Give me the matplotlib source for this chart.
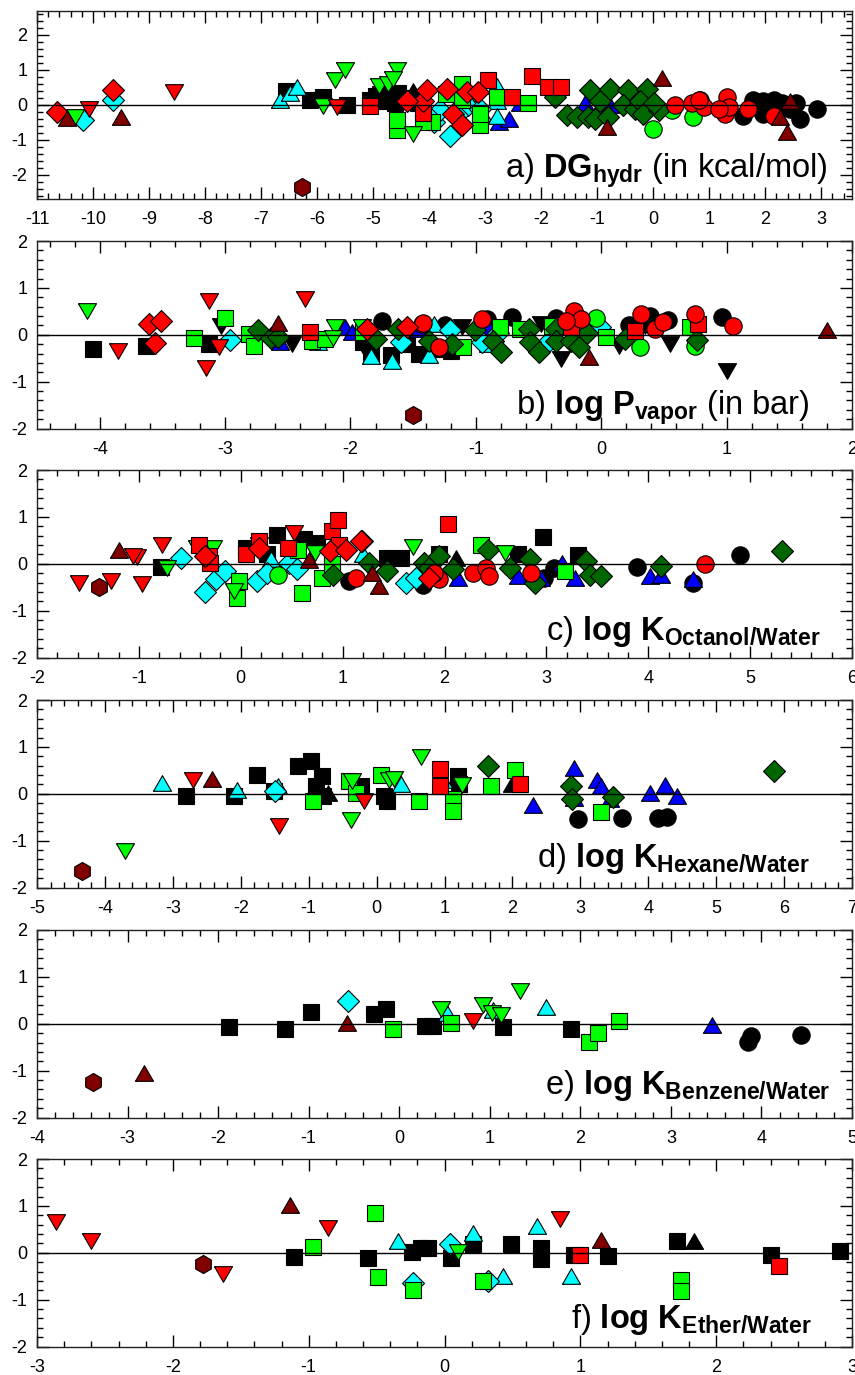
import matplotlib
matplotlib.use("Agg")
import matplotlib.pyplot as plt
from matplotlib.ticker import MultipleLocator

plt.rcParams['font.family'] = ['Liberation Sans', 'DejaVu Sans']
plt.rcParams['mathtext.fontset'] = 'custom'
plt.rcParams['mathtext.rm'] = 'Liberation Sans'
plt.rcParams['mathtext.bf'] = 'Liberation Sans:bold'
plt.rcParams['mathtext.it'] = 'Liberation Sans:italic'
plt.rcParams['mathtext.sf'] = 'Liberation Sans'
plt.rcParams['axes.unicode_minus'] = False

# ---------------- data ----------------
# series codes: k=black, r=red, m=dark red, g=lime, G=dark green, c=cyan, b=blue
# marker letter: s square, o circle, v down-triangle, ^ up-triangle, D diamond, h hexagon

A_KIND = (['ks'] * 14 + ['k^'] * 2 + ['kv'] * 2 + ['ko'] * 11 + ['b^'] * 7 + ['c^'] * 8 +
          ['cD'] * 9 + ['gs'] * 11 + ['go'] * 3 + ['gv'] * 10 + ['GD'] * 17 + ['rs'] * 7 +
          ['ro'] * 10 + ['rD'] * 10 + ['rv'] * 3 + ['m^'] * 7 + ['mh'] * 1)
A_X = [-6.55, -6.12, -5.89, -5.47, -5.05, -4.95, -4.85, -4.75, -4.65, -4.55, -4.45, -4.35, -4.6, -4.2,
       -4.28, -4.7,
       -4.5, -4.85,
       0.84, 1.61, 1.79, 1.96, 2.15, 1.96, 2.63, 2.92, 2.45, 2.3, 2.55,
       -2.76, -2.58, -2.38, -1.21, -0.77, -0.9, -3.5,
       -6.67, -6.48, -6.35, -2.79, -2.78, -3.05, -2.79, -3.3,
       -10.17, -9.65, -3.92, -3.63, -3.8, -3.3, -3.09, -3.5, -4.0,
       -4.57, -4.57, -3.95, -4.1, -3.42, -3.42, -3.09, -3.09, -2.79, -2.23, -3.7,
       0.0, 0.33, 0.72,
       -10.32, -5.9, -5.68, -5.5, -4.9, -4.73, -4.58, -4.65, -4.28, -3.2,
       -1.75, -1.54, -1.36, -1.16, -1.04, -1.13, -0.95, -0.8, -0.77, -0.45, -0.54, -0.32, -0.11, -0.23, -0.18, 0.11, 0.02,
       -5.05, -4.1, -2.94, -2.52, -2.17, -1.87, -1.64,
       0.39, 0.69, 0.9, 1.32, 1.29, 1.36, 1.7, 2.15, 0.81, 1.18,
       -10.65, -9.64, -4.1, -4.04, -4.4, -3.68, -3.33, -3.12, -3.57, -3.42,
       -10.08, -8.55, -5.65,
       -10.47, -9.5, -0.83, 0.15, 2.45, 2.27, 2.39,
       -6.27]
A_Y = [0.39, 0.14, 0.22, 0.0, 0.15, 0.25, 0.1, 0.3, 0.2, 0.35, 0.1, 0.2, 0.05, 0.05,
       0.4, 0.3,
       0.15, 0.3,
       0.14, -0.31, 0.14, 0.12, 0.14, -0.26, -0.4, -0.11, -0.11, 0.05, 0.05,
       -0.5, -0.4, 0.05, 0.05, -0.02, 0.12, -0.1,
       0.15, 0.35, 0.52, 0.55, 0.12, -0.25, -0.31, 0.3,
       -0.45, 0.14, -0.5, -0.88, -0.15, -0.02, -0.13, -0.3, -0.35,
       -0.73, -0.45, -0.5, -0.5, 0.6, 0.14, -0.59, -0.26, 0.22, 0.05, 0.3,
       -0.69, -0.16, -0.35,
       -0.35, -0.05, 0.71, 1.0, 0.55, 0.6, 0.98, 0.75, -0.83, 0.3,
       0.22, -0.28, -0.35, -0.35, -0.42, 0.41, 0.12, -0.35, 0.46, 0.41, -0.02, -0.11, 0.46, 0.12, -0.26, -0.16, 0.05,
       -0.05, -0.25, 0.7, 0.22, 0.81, 0.52, 0.52,
       -0.02, 0.05, -0.07, 0.22, -0.26, -0.07, -0.11, -0.31, 0.14, -0.11,
       -0.22, 0.43, 0.12, 0.41, 0.12, 0.46, 0.36, 0.36, -0.26, -0.59,
       -0.11, 0.36, -0.07,
       -0.37, -0.35, -0.64, 0.77, 0.12, -0.35, -0.78,
       -2.35]

B_KIND = (['ks'] * 10 + ['ko'] * 9 + ['kv'] * 11 + ['b^'] * 5 + ['c^'] * 6 + ['cD'] * 7 +
          ['gs'] * 13 + ['go'] * 3 + ['gv'] * 4 + ['GD'] * 20 + ['rs'] * 4 + ['ro'] * 12 +
          ['rD'] * 5 + ['rv'] * 5 + ['m^'] * 3 + ['mh'] * 1)
B_X = [-4.05, -3.63, -3.13, -1.84, -1.68, -1.45, -1.3, -1.9, -1.55, -1.2,
       -1.75, -0.91, -0.71, -0.36, 0.39, 0.53, 0.96, 0.22, -1.25,
       -3.03, -2.47, -1.9, -1.11, -0.48, -0.32, 0.14, 0.55, 1.0, 0.35, -1.6,
       -2.56, -2.04, -1.99, -1.45, -0.9,
       -1.84, -1.67, -2.26, -1.33, -1.37, -0.9,
       -2.96, -1.21, -0.95, -0.01, -0.82, -0.42, -1.6,
       -3.25, -3.0, -2.81, -2.77, -2.31, -2.2, -1.1, -0.81, -0.65, -0.39, 0.04, 0.71, -1.9,
       -0.04, 0.31, 0.75,
       -4.1, -2.12, -2.14, -1.91,
       -2.74, -2.63, -2.58, -1.8, -1.62, -1.37, -1.19, -1.01, -0.86, -0.8, -0.58, -0.57, -0.5, -0.36, -0.36, -0.24, -0.18, -0.11, 0.19, 0.76,
       -2.32, -0.24, 0.77, 0.27,
       -1.43, -1.42, -0.95, -0.22, -0.16, -0.28, -1.29, 0.32, 0.43, 0.49, 0.75, 1.05,
       -3.61, -3.51, -3.56, -1.87, -1.55,
       -3.85, -3.13, -3.15, -3.05, -2.36,
       -2.58, -0.1, 1.8,
       -1.5]
B_Y = [-0.31, -0.24, -0.2, -0.4, -0.43, -0.41, -0.3, -0.15, -0.2, -0.35,
       0.3, 0.34, 0.37, 0.36, 0.41, 0.31, 0.38, 0.2, 0.2,
       0.19, -0.2, -0.24, 0.16, 0.22, -0.52, -0.24, -0.2, -0.77, 0.19, -0.1,
       -0.15, 0.16, 0.05, 0.13, 0.16,
       -0.45, -0.56, -0.16, 0.22, -0.44, -0.2,
       -0.11, 0.1, -0.15, 0.16, 0.03, -0.13, -0.15,
       -0.06, 0.36, 0.01, -0.24, -0.13, -0.1, -0.27, 0.16, 0.12, 0.19, -0.04, 0.16, 0.05,
       0.36, -0.27, -0.25,
       0.51, 0.16, -0.07, 0.16,
       0.1, -0.06, -0.05, -0.09, 0.12, -0.13, -0.19, 0.1, -0.13, -0.37, 0.13, -0.15, -0.37, 0.13, -0.13, -0.13, -0.27, 0.03, -0.1, -0.12,
       0.05, 0.16, 0.23, 0.07,
       0.23, 0.26, 0.34, 0.51, 0.34, 0.3, -0.27, 0.44, 0.12, 0.27, 0.44, 0.19,
       0.23, 0.3, -0.18, 0.12, 0.16,
       -0.34, 0.71, -0.7, -0.26, 0.76,
       0.26, -0.48, 0.1,
       -1.72]

C_KIND = (['ks'] * 12 + ['ko'] * 7 + ['k^'] * 1 + ['b^'] * 8 + ['cD'] * 11 + ['c^'] * 2 +
          ['gs'] * 8 + ['go'] * 1 + ['gv'] * 8 + ['GD'] * 16 + ['rs'] * 10 + ['ro'] * 8 +
          ['rD'] * 6 + ['rv'] * 7 + ['m^'] * 4 + ['mh'] * 1)
C_X = [-0.78, 0.36, 0.62, 0.75, 0.05, 0.26, 1.44, 1.57, 2.97, 2.72, 3.31, 1.95,
       1.06, 1.79, 2.98, 3.07, 3.89, 4.44, 4.9,
       2.11,
       2.13, 2.72, 2.95, 3.15, 3.28, 4.02, 4.13, 4.44,
       -0.59, -0.35, -0.24, -0.15, 0.16, 0.26, 0.47, 0.55, 1.62, 1.72, 1.19,
       0.3, 1.2,
       -0.02, -0.04, 0.56, 0.6, 0.8, 2.36, 3.18, 0.9,
       0.37,
       -0.72, -0.43, -0.27, -0.07, 0.18, 1.69, 0.73, 2.59,
       0.91, 1.26, 1.44, 1.8, 1.85, 1.95, 2.08, 2.43, 2.64, 2.84, 2.89, 3.39, 3.43, 3.54, 4.13, 5.31,
       -0.41, -0.31, -0.3, 0.05, 0.18, 0.46, 0.9, 0.95, 0.96, 2.03,
       1.13, 1.95, 2.28, 2.41, 2.44, 2.85, 4.56, 1.9,
       -0.35, 0.18, 0.88, 1.03, 1.18, 1.85,
       -1.59, -1.27, -1.02, -0.97, -0.77, -1.06, 0.52,
       -1.2, 0.67, 1.36, 1.29,
       -1.39]
C_Y = [-0.06, 0.62, 0.52, 0.45, 0.34, 0.2, 0.13, 0.13, 0.57, 0.2, 0.18, 0.2,
       -0.37, -0.46, -0.3, -0.09, -0.06, -0.42, 0.18,
       0.13,
       -0.3, -0.26, -0.3, 0.02, -0.3, -0.26, -0.23, -0.33,
       0.13, -0.6, -0.33, -0.16, -0.37, -0.19, 0.02, -0.12, -0.4, -0.3, 0.48,
       0.1, 0.2,
       -0.37, -0.72, 0.3, -0.62, -0.3, 0.41, -0.16, 0.0,
       -0.23,
       -0.09, 0.34, 0.34, -0.58, 0.41, 0.36, 0.23, 0.23,
       -0.23, 0.02, -0.16, 0.02, -0.09, 0.16, -0.12, 0.29, -0.09, 0.11, -0.4, 0.06, -0.23, -0.26, -0.05, 0.27,
       0.39, 0.16, 0.02, 0.2, 0.48, 0.34, 0.7, 0.93, 0.41, 0.84,
       -0.3, -0.33, -0.19, -0.09, -0.26, -0.19, -0.01, -0.2,
       0.16, 0.34, 0.27, 0.3, 0.48, -0.3,
       -0.4, -0.37, 0.14, -0.44, 0.41, 0.16, 0.66,
       0.3, 0.09, -0.48, -0.19,
       -0.49]

D_KIND = (['ks'] * 14 + ['ko'] * 4 + ['k^'] * 2 + ['b^'] * 9 + ['c^'] * 5 + ['cD'] * 1 +
          ['gs'] * 10 + ['gv'] * 7 + ['GD'] * 5 + ['rs'] * 3 + ['rv'] * 3 + ['m^'] * 1 + ['mh'] * 1)
D_X = [-2.81, -2.1, -1.76, -1.51, -1.16, -0.96, -0.81, -0.89, -0.79, -0.23, 0.11, 0.16, 1.2, 1.22,
       2.96, 3.62, 4.14, 4.28,
       -0.72, 1.99,
       2.31, 2.91, 3.25, 3.3, 3.43, 4.02, 4.24, 4.43, 2.9,
       -3.16, -2.05, -1.45, 0.36, 0.98,
       -1.5,
       -0.94, -0.4, 0.07, 0.63, -0.3, 1.12, 1.12, 1.69, 2.04, 3.3,
       -3.71, -0.37, -0.36, 0.66, 0.19, 0.26, 1.26,
       1.64, 2.86, 2.88, 3.48, 5.85,
       0.93, 0.93, 2.11,
       -2.71, -1.43, -0.18,
       -2.42,
       -4.34]
D_Y = [-0.05, -0.05, 0.39, 0.06, 0.6, 0.7, 0.38, 0.16, -0.05, 0.16, -0.05, -0.16, 0.38, 0.2,
       -0.53, -0.51, -0.51, -0.49,
       0.02, 0.2,
       -0.25, 0.54, 0.29, 0.16, -0.12, 0.02, 0.18, -0.05, -0.1,
       0.23, 0.09, 0.16, 0.2, 0.3,
       0.06,
       -0.16, 0.27, 0.41, -0.16, 0.02, -0.12, -0.37, 0.16, 0.5, -0.39,
       -1.23, -0.57, 0.28, 0.79, 0.3, 0.32, 0.18,
       0.6, 0.16, -0.12, -0.06, 0.48,
       0.52, 0.16, 0.2,
       0.3, -0.69, -0.16,
       0.32,
       -1.65]

E_KIND = (['ks'] * 9 + ['ko'] * 3 + ['b^'] * 1 + ['c^'] * 3 + ['cD'] * 1 + ['gs'] * 5 +
          ['gv'] * 5 + ['rv'] * 1 + ['m^'] * 2 + ['mh'] * 1)
E_X = [-1.88, -1.26, -0.97, -0.28, -0.15, 0.28, 0.37, 1.15, 1.9,
       3.85, 3.88, 4.44,
       3.45,
       0.53, 1.04, 1.62,
       -0.57,
       -0.07, 0.57, 2.1, 2.19, 2.43,
       0.46, 0.93, 1.03, 1.12, 1.33,
       0.81,
       -2.82, -0.58,
       -3.38]
E_Y = [-0.07, -0.11, 0.26, 0.2, 0.31, -0.04, -0.04, -0.06, -0.11,
       -0.38, -0.26, -0.23,
       -0.02,
       0.23, 0.3, 0.35,
       0.48,
       -0.11, 0.01, -0.38, -0.2, 0.05,
       0.31, 0.4, 0.23, 0.19, 0.69,
       0.05,
       -1.06, 0.01,
       -1.25]

F_KIND = (['ks'] * 15 + ['k^'] * 1 + ['c^'] * 5 + ['cD'] * 3 + ['gs'] * 7 + ['gv'] * 1 +
          ['rs'] * 2 + ['rv'] * 5 + ['m^'] * 2 + ['mh'] * 1)
F_X = [-1.11, -0.56, -0.24, -0.17, -0.12, 0.05, 0.21, 0.49, 0.71, 0.71, 0.95, 1.2, 1.71, 2.4, 2.91,
       1.84,
       -0.34, 0.21, 0.68, 0.43, 0.93,
       -0.23, 0.04, 0.32,
       -0.97, -0.51, -0.49, -0.23, 0.28, 1.74, 1.74,
       0.1,
       1.0, 2.46,
       -2.86, -2.6, -1.63, -0.86, 0.85,
       -1.14, 1.15,
       -1.78]
F_Y = [-0.09, -0.11, 0.02, 0.11, 0.11, -0.11, 0.18, 0.19, 0.11, -0.14, -0.04, -0.07, 0.26, -0.05, 0.04,
       0.25,
       0.25, 0.43, 0.57, -0.49, -0.49,
       -0.64, 0.18, -0.61,
       0.12, 0.84, -0.52, -0.79, -0.61, -0.59, -0.82,
       0.02,
       -0.04, -0.29,
       0.66, 0.25, -0.45, 0.52, 0.71,
       1.02, 0.27,
       -0.24]

PANEL_LABELS = [r"a) $\mathbf{DG_{hydr}}$ (in kcal/mol)",
                r"b) $\mathbf{log\ P_{vapor}}$ (in bar)",
                r"c) $\mathbf{log\ K_{Octanol/Water}}$",
                r"d) $\mathbf{log\ K_{Hexane/Water}}$",
                r"e) $\mathbf{log\ K_{Benzene/Water}}$",
                r"f) $\mathbf{log\ K_{Ether/Water}}$"]
X_LIMITS = [(-11, 3.55), (-4.5, 2), (-2, 6), (-5, 7), (-4, 5), (-3, 3)]
Y_LIMITS = [(-2.68, 2.68), (-2, 2), (-2, 2), (-2, 2), (-2, 2), (-2, 2)]

# ---------------- styles ----------------
TRI_UP = [(-1, -0.866), (1, -0.866), (0, 0.866), (-1, -0.866)]
TRI_DN = [(-1, 0.866), (1, 0.866), (0, -0.866), (-1, 0.866)]
STYLE = {
    'ks': ('s', '#000000', 12), 'ko': ('o', '#000000', 12.5),
    'kv': (TRI_DN, '#000000', 13), 'k^': (TRI_UP, '#000000', 13),
    'b^': (TRI_UP, '#0000FF', 13), 'c^': (TRI_UP, '#00FFFF', 13),
    'cD': ('D', '#00FFFF', 11.2), 'gs': ('s', '#00FF00', 12),
    'go': ('o', '#00FF00', 12.5), 'gv': (TRI_DN, '#00FF00', 13),
    'GD': ('D', '#006600', 11.2), 'rs': ('s', '#FF0000', 12),
    'ro': ('o', '#FF0000', 12.5), 'rD': ('D', '#FF0000', 11.2),
    'rv': (TRI_DN, '#FF0000', 13), 'm^': (TRI_UP, '#800000', 13),
    'mh': ('h', '#800000', 13),
}
ORDER = ['ks', 'ko', 'kv', 'k^', 'b^', 'c^', 'cD', 'gs', 'go', 'gv', 'GD',
         'rs', 'ro', 'rD', 'rv', 'm^', 'mh']

PANELS = [(A_KIND, A_X, A_Y), (B_KIND, B_X, B_Y), (C_KIND, C_X, C_Y),
          (D_KIND, D_X, D_Y), (E_KIND, E_X, E_Y), (F_KIND, F_X, F_Y)]

# label placement (axes fraction): right end x, baseline y
LABEL_POS = [(0.970, 0.112), (0.948, 0.072), (0.961, 0.096),
             (0.948, 0.112), (0.973, 0.123), (0.951, 0.100)]

W, H = 855, 1375
fig = plt.figure(figsize=(W / 100, H / 100), dpi=100)
tops = [11, 241, 470, 700, 930, 1159]
ax_h = 187.5
left, right = 37, 852

for i, (kinds, xs, ys) in enumerate(PANELS):
    assert len(kinds) == len(xs) == len(ys), (i, len(kinds), len(xs), len(ys))
    top = tops[i]
    ax = fig.add_axes([left / W, 1 - (top + ax_h) / H, (right - left) / W, ax_h / H])
    for code in ORDER:
        px = [x for k, x in zip(kinds, xs) if k == code]
        py = [y for k, y in zip(kinds, ys) if k == code]
        if not px:
            continue
        mk, col, ms = STYLE[code]
        ax.plot(px, py, linestyle='none', marker=mk, markersize=ms,
                markerfacecolor=col, markeredgecolor='black', markeredgewidth=0.8,
                zorder=2)
    ax.axhline(0, color='black', lw=1.0, zorder=3)
    ax.set_xlim(*X_LIMITS[i])
    ax.set_ylim(*Y_LIMITS[i])
    ax.xaxis.set_major_locator(MultipleLocator(1))
    ax.xaxis.set_minor_locator(MultipleLocator(0.2))
    ax.yaxis.set_major_locator(MultipleLocator(1))
    ax.yaxis.set_minor_locator(MultipleLocator(0.2))
    ax.tick_params(which='both', direction='in', top=True, right=True,
                   width=1, colors='black')
    ax.tick_params(which='major', length=8.5)
    ax.tick_params(which='minor', length=4.5)
    ax.tick_params(axis='x', which='major', pad=9, labelsize=13)
    ax.tick_params(axis='y', which='major', pad=7, labelsize=13)
    for sp in ax.spines.values():
        sp.set_linewidth(1.0)
        sp.set_color('#222222')
    lx, ly = LABEL_POS[i]
    ax.text(lx, ly, PANEL_LABELS[i], transform=ax.transAxes, ha='right',
            va='baseline', fontsize=23.5, zorder=5)

fig.savefig('out.png', dpi=100)
